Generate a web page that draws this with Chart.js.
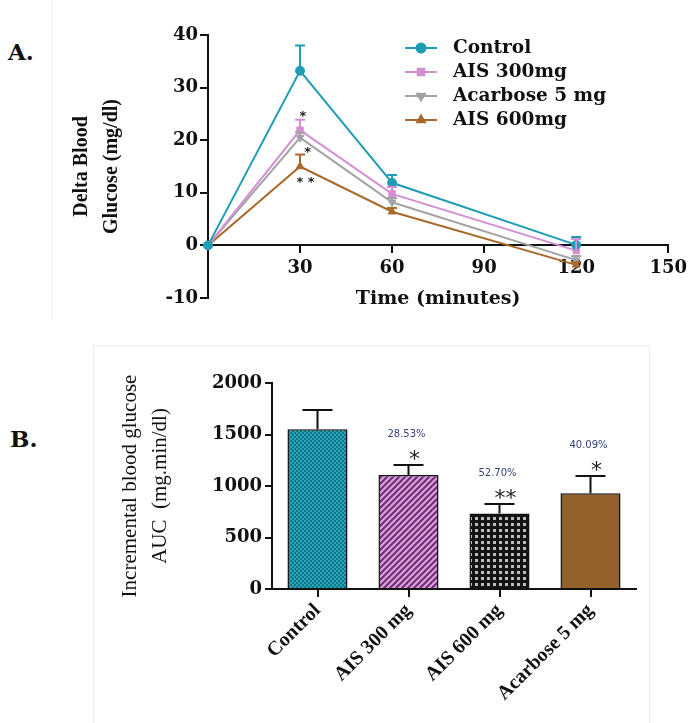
<!DOCTYPE html>
<html>
<head>
<meta charset="utf-8">
<script src="https://cdn.jsdelivr.net/npm/chart.js@4.4.1/dist/chart.umd.min.js"></script>
<style>
  body { margin: 0; background: #fff; width: 692px; height: 723px; position: relative; overflow: hidden; }
  .panel-label { position: absolute; font-family: 'DejaVu Serif', serif; font-weight: bold; font-size: 23px; line-height: 1; color: #111; }
  .box { position: absolute; left: 0; width: 692px; }
  #frameA { position: absolute; left: 52px; top: 0; width: 0; height: 320px; border-left: 1px solid #f3f3f3; }
  #frameB { position: absolute; left: 93px; top: 345px; width: 555px; height: 400px; border: 1px solid #ececec; }
</style>
</head>
<body>
<div id="frameA"></div>
<div id="frameB"></div>
<div class="panel-label" style="left:8px; top:40px">A.</div>
<div class="panel-label" style="left:10px; top:427px">B.</div>
<div class="box" style="top:0; height:320px"><canvas id="glucoseChart"></canvas></div>
<div class="box" style="top:330px; height:393px"><canvas id="aucChart"></canvas></div>
<script>
// --- panel A: delta blood glucose over time
const timeMinutes = [0, 30, 60, 120];
const controlDelta = [0, 33.2, 11.9, 0.1];
const ais300Delta = [0, 21.9, 9.8, -1.0];
const acarboseDelta = [0, 20.5, 8.2, -2.8];
const ais600Delta = [0, 15.0, 6.4, -3.7];
const controlSem = [0, 4.8, 1.5, 1.5];
const ais300Sem = [0, 2.0, 1.3, 2.2];
const acarboseSem = [0, 1.0, 0.8, 0.8];
const ais600Sem = [0, 2.3, 0.7, 0.5];
const sigText30 = ['*', '*', '* *'];
const sigTime30 = [30.9, 32.5, 31.8];
const sigDelta30 = [25.3, 18.5, 12.8];

// --- panel B: incremental AUC
const aucGroups = ['Control', 'AIS 300 mg', 'AIS 600 mg', 'Acarbose 5 mg'];
const aucValues = [1550, 1108, 733, 929];
const aucSem = [188, 96, 92, 168];
const aucReduction = ['', '28.53%', '52.70%', '40.09%'];
const aucSignif = ['', '*', '**', '*'];

Chart.defaults.font.family = "'DejaVu Serif', serif";
Chart.defaults.color = '#111';

const ink = '#111';
const tickFont = { family: "'DejaVu Serif', serif", size: 18, weight: 'bold' };

function makePattern(size, paint) {
  const c = document.createElement('canvas');
  c.width = c.height = size;
  const g = c.getContext('2d');
  paint(g, size);
  return g.createPattern(c, 'repeat');
}

const tealDots = makePattern(4, g => {
  g.fillStyle = '#27a6b9'; g.fillRect(0, 0, 4, 4);
  g.fillStyle = '#117587'; g.fillRect(0, 0, 2, 2); g.fillRect(2, 2, 2, 2);
});
const pinkStripes = makePattern(6, g => {
  g.fillStyle = '#dba0dc'; g.fillRect(0, 0, 6, 6);
  g.strokeStyle = '#6c2f75'; g.lineWidth = 2;
  g.beginPath();
  g.moveTo(-1, 7); g.lineTo(7, -1);
  g.moveTo(-4, 4); g.lineTo(4, -4);
  g.moveTo(2, 10); g.lineTo(10, 2);
  g.stroke();
});
const greyChecks = makePattern(6, g => {
  g.fillStyle = '#141414'; g.fillRect(0, 0, 6, 6);
  g.fillStyle = '#bcbcbc'; g.fillRect(1, 1, 3, 3);
});
const brownFill = '#93622a';

// ---------- chart A ----------
const semSets = [controlSem, ais300Sem, acarboseSem, ais600Sem];

function series(label, values, color, pointStyle, rotation) {
  return {
    label,
    data: timeMinutes.map((t, i) => ({ x: t, y: values[i] })),
    borderColor: color,
    backgroundColor: color,
    borderWidth: 2,
    pointStyle,
    pointRotation: rotation,
    pointRadius: 4.5,
    pointBorderWidth: 1,
    tension: 0,
    clip: false
  };
}

const errorBarsA = {
  id: 'errorBarsA',
  afterDatasetsDraw(chart) {
    const { ctx, scales: { x, y } } = chart;
    ctx.save();
    ctx.lineWidth = 2;
    chart.data.datasets.forEach((ds, d) => {
      ctx.strokeStyle = ds.borderColor;
      ds.data.forEach((p, i) => {
        const e = semSets[d][i];
        if (!e) return;
        const px = x.getPixelForValue(p.x);
        const y0 = y.getPixelForValue(p.y);
        const y1 = y.getPixelForValue(p.y + e);
        ctx.beginPath();
        ctx.moveTo(px, y0); ctx.lineTo(px, y1);
        ctx.moveTo(px - 5, y1); ctx.lineTo(px + 5, y1);
        ctx.stroke();
      });
    });
    // significance marks at 30 min
    ctx.fillStyle = '#222';
    ctx.font = "bold 13px 'DejaVu Sans'";
    ctx.textAlign = 'center';
    ctx.textBaseline = 'alphabetic';
    sigText30.forEach((t, i) => {
      ctx.fillText(t, x.getPixelForValue(sigTime30[i]), y.getPixelForValue(sigDelta30[i]) + 8);
    });
    ctx.restore();
  }
};

const legendA = {
  id: 'legendA',
  afterDraw(chart) {
    const ctx = chart.ctx;
    chart.data.datasets.forEach((ds, i) => {
      const ly = 48 + i * 24;
      ctx.save();
      ctx.strokeStyle = ds.borderColor;
      ctx.fillStyle = ds.backgroundColor;
      ctx.lineWidth = 2;
      ctx.beginPath(); ctx.moveTo(405, ly); ctx.lineTo(437, ly); ctx.stroke();
      Chart.helpers.drawPoint(ctx, { pointStyle: ds.pointStyle, rotation: ds.pointRotation, radius: 4.5, borderWidth: 1 }, 421, ly);
      ctx.fillStyle = ink;
      ctx.font = "bold 18.5px 'DejaVu Serif'";
      ctx.textBaseline = 'middle';
      ctx.fillText(ds.label, 453, ly);
      ctx.restore();
    });
  }
};

new Chart(document.getElementById('glucoseChart'), {
  type: 'line',
  data: {
    datasets: [
      series('Control', controlDelta, '#1f9db5', 'circle', 0),
      series('AIS 300mg', ais300Delta, '#d48ed4', 'rect', 0),
      series('Acarbose 5 mg', acarboseDelta, '#a3a3a3', 'triangle', 180),
      series('AIS 600mg', ais600Delta, '#a8692a', 'triangle', 0)
    ]
  },
  options: {
    responsive: true,
    maintainAspectRatio: false,
    animation: false,
    layout: { padding: { top: 35, right: 22, bottom: 22, left: 0 } },
    plugins: { legend: { display: false }, tooltip: { enabled: false } },
    scales: {
      x: {
        type: 'linear',
        min: 0,
        max: 150,
        position: { y: 0 },
        ticks: {
          stepSize: 30,
          font: tickFont,
          color: ink,
          padding: 5,
          callback: v => (v === 0 ? '' : String(v))
        },
        grid: { drawOnChartArea: false, drawTicks: true, tickLength: 7, color: ink, lineWidth: 2 },
        border: { color: ink, width: 2 },
        title: {
          display: true,
          text: 'Time (minutes)',
          color: ink,
          font: { family: "'DejaVu Serif', serif", size: 19, weight: 'bold' },
          padding: { top: 4, bottom: 0 }
        }
      },
      y: {
        min: -10,
        max: 40,
        ticks: { stepSize: 10, font: tickFont, color: ink, padding: 2, callback: v => String(v) },
        grid: { drawOnChartArea: false, drawTicks: true, tickLength: 8, color: ink, lineWidth: 2 },
        border: { color: ink, width: 2 },
        title: {
          display: true,
          text: ['Delta Blood', 'Glucose (mg/dl)'],
          color: ink,
          font: { family: "'Liberation Serif', serif", size: 20, weight: 'bold', lineHeight: 1.5 },
          padding: { top: 67, bottom: 0 }
        },
        afterFit: s => { s.width = 208; }
      }
    }
  },
  plugins: [errorBarsA, legendA]
});

// ---------- chart B ----------
const aucMarks = {
  id: 'aucMarks',
  afterDatasetsDraw(chart) {
    const { ctx, scales: { y } } = chart;
    const meta = chart.getDatasetMeta(0);
    ctx.save();
    aucValues.forEach((v, i) => {
      const cx = meta.data[i].x;
      const yTop = y.getPixelForValue(v);
      const yErr = y.getPixelForValue(v + aucSem[i]);
      ctx.strokeStyle = ink;
      ctx.lineWidth = 2;
      ctx.beginPath();
      ctx.moveTo(cx, yTop); ctx.lineTo(cx, yErr);
      ctx.moveTo(cx - 15, yErr); ctx.lineTo(cx + 15, yErr);
      ctx.stroke();
      ctx.textAlign = 'center';
      if (aucSignif[i]) {
        ctx.fillStyle = '#222';
        ctx.font = "22px 'DejaVu Sans'";
        ctx.textBaseline = 'alphabetic';
        ctx.fillText(aucSignif[i], cx + 6, yErr + 1);
      }
      if (aucReduction[i]) {
        ctx.fillStyle = '#34427a';
        ctx.font = "10px 'DejaVu Sans'";
        ctx.textBaseline = 'middle';
        ctx.fillText(aucReduction[i], cx - 2, yErr - 31);
      }
    });
    ctx.restore();
  }
};

new Chart(document.getElementById('aucChart'), {
  type: 'bar',
  data: {
    labels: aucGroups,
    datasets: [{
      data: aucValues,
      backgroundColor: [tealDots, pinkStripes, greyChecks, brownFill],
      borderColor: ink,
      borderWidth: 1.5,
      barPercentage: 0.66,
      categoryPercentage: 1
    }]
  },
  options: {
    responsive: true,
    maintainAspectRatio: false,
    animation: false,
    layout: { padding: { top: 53, right: 56, bottom: 0, left: 0 } },
    plugins: { legend: { display: false }, tooltip: { enabled: false } },
    scales: {
      x: {
        ticks: {
          font: { family: "'Liberation Serif', serif", size: 20, weight: 'bold' },
          color: ink,
          maxRotation: 45,
          minRotation: 45,
          autoSkip: false,
          padding: 2
        },
        grid: { offset: false, drawOnChartArea: false, drawTicks: true, tickLength: 8, color: ink, lineWidth: 2 },
        border: { color: ink, width: 2 },
        afterFit: s => { s.height = 134; }
      },
      y: {
        min: 0,
        max: 2000,
        ticks: { stepSize: 500, font: tickFont, color: ink, padding: 3, callback: v => String(v) },
        grid: { drawOnChartArea: false, drawTicks: true, tickLength: 7, color: ink, lineWidth: 2 },
        border: { color: ink, width: 2 },
        title: {
          display: true,
          text: ['Incremental blood glucose', 'AUC  (mg.min/dl)'],
          color: ink,
          font: { family: "'Liberation Serif', serif", size: 21, weight: 'normal', lineHeight: 1.43 },
          padding: { top: 115, bottom: 0 }
        },
        afterFit: s => { s.width = 272; }
      }
    }
  },
  plugins: [aucMarks]
});
</script>
</body>
</html>
